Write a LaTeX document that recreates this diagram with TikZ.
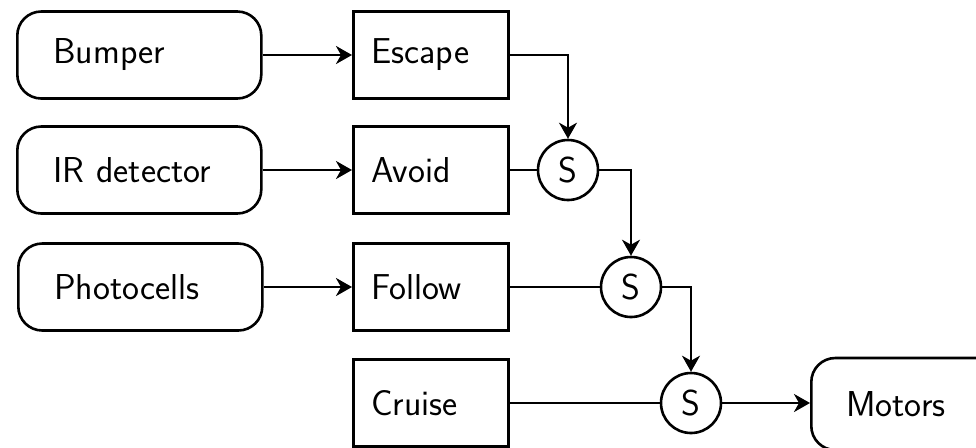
\documentclass[tikz,border=0pt]{standalone}
\usetikzlibrary{arrows.meta}
\begin{document}
\begin{tikzpicture}[x=0.5pt, y=-0.5pt, line width=1.3pt,
		font=\fontsize{18}{20}\selectfont\sffamily,
		>={Stealth[length=8pt, width=9pt, inset=2.5pt]},
		sensor/.style={draw, rounded corners=12pt, anchor=west, minimum height=43.5pt,
			inner xsep=18pt, text width=86pt, align=left},
		behaviour/.style={draw, anchor=west, minimum height=43.5pt,
			inner xsep=9pt, text width=59.5pt, align=left},
		suppress/.style={draw, circle, minimum size=30pt, inner sep=0pt}]
		\useasboundingbox (0,0) rectangle (976,447);
		\clip (0,0) rectangle (976,447);

		% Sensorer
		\node[sensor] (bumper) at (16,55) {Bumper};
		\node[sensor] (ir) at (16,170) {IR detector};
		\node[sensor] (photo) at (17,287) {Photocells};

		% Atferder
		\node[behaviour] (escape) at (352,55) {Escape};
		\node[behaviour] (avoid) at (352,170) {Avoid};
		\node[behaviour] (follow) at (352,287) {Follow};
		\node[behaviour] (cruise) at (352,403) {Cruise};

		% Undertrykkingsnoder
		\node[suppress] (s1) at (568,170) {S};
		\node[suppress] (s2) at (631,287) {S};
		\node[suppress] (s3) at (691,403) {S};

		% Aktuator (går ut over kanten)
		\node[sensor, inner xsep=17.5pt, text width=86pt, minimum height=46pt] (motors) at (810,404) {Motors};

		% Sensor til atferd
		\draw[->] (bumper) -- (escape);
		\draw[->] (ir) -- (avoid);
		\draw[->] (photo) -- (follow);

		% Undertrykking
		\draw[->] (escape.east) -| (s1.north);
		\draw (avoid) -- (s1);
		\draw[->] (s1.east) -| (s2.north);
		\draw (follow) -- (s2);
		\draw[->] (s2.east) -| (s3.north);
		\draw (cruise) -- (s3);
		\draw[->] (s3) -- (motors.west |- s3);
	\end{tikzpicture}
\end{document}
